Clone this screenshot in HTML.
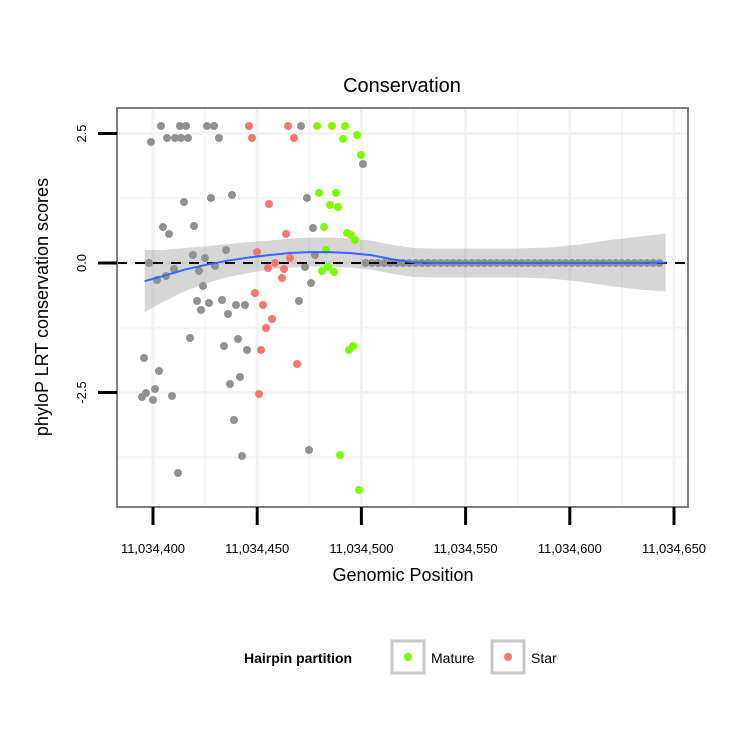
<!DOCTYPE html>
<html><head><meta charset="utf-8"><style>
body{margin:0;background:#fff;}
svg{display:block;font-family:"Liberation Sans",sans-serif;}
</style></head><body>
<svg id="chart" width="750" height="750"></svg>
<script>
const grayX=[161,180,186,207,214,301,167,175,181,188,219,151,363,184,211,232,307,163,169,194,313,226,193,205,315,149,215,305,199,174,166,157,203,311,197,209,222,236,245,299,201,228,190,224,238,247,144,159,240,230,155,146,142,153,172,234,309,242,178];
const grayY=[126,126,126,126,126,126,138,138,138,138,138,142,164,202,198,195,198,227,234,226,228,250,255,258,255,263,266,267,271,269,276,280,286,283,301,303,300,305,305,301,310,314,338,346,339,350,358,371,377,384,389,393,397,400,396,420,450,456,473];
const greenX=[317,332,345,343,357,361,319,336,330,338,324,347,351,355,326,328,322,334,353,349,340,359];
const greenY=[126,126,126,139,135,155,193,193,205,207,227,233,235,240,250,267,271,272,346,350,455,490];
const redX=[249,288,252,294,269,286,257,290,268,275,284,282,255,263,272,266,261,297,259];
const redY=[126,126,138,138,204,234,252,258,268,263,269,278,293,305,319,328,350,364,394];
// pixel->data conversion of read positions
const toX=p=>11034400+(p-153)/2.084, toY=p=>(263-p)/51.8;
const grayPos=grayX.map(toX), grayScore=grayY.map(toY);
const greenPos=greenX.map(toX), greenScore=greenY.map(toY);
const redPos=redX.map(toX), redScore=redY.map(toY);
const zeroPos=[11034502,11034505,11034508,11034511,11034514,11034517,11034520,11034523,11034526,11034529,11034532,11034535,11034538,11034541,11034544,11034547,11034550,11034553,11034556,11034559,11034562,11034565,11034568,11034571,11034574,11034577,11034580,11034583,11034586,11034589,11034592,11034595,11034598,11034601,11034604,11034607,11034610,11034613,11034616,11034619,11034622,11034625,11034628,11034631,11034634,11034637,11034640,11034643];
const smoothX=[396,405,415,425,435,445,455,465,475,485,495,505,515,525,535,545,560,575,590,605,620,635,646];
const smoothY=[-0.35,-0.25,-0.13,-0.04,0.04,0.1,0.15,0.19,0.21,0.21,0.19,0.15,0.07,0.01,0,0,0,0,0,0,0,0,0.01];
const smoothSE=[0.6,0.5,0.42,0.36,0.32,0.3,0.28,0.28,0.28,0.28,0.28,0.28,0.28,0.28,0.28,0.28,0.28,0.28,0.3,0.36,0.45,0.52,0.56];
const xTicks=[11034400,11034450,11034500,11034550,11034600,11034650];
const xTickLabels=["11,034,400","11,034,450","11,034,500","11,034,550","11,034,600","11,034,650"];
const yTicks=[-2.5,0,2.5];
const yTickLabels=["-2.5","0.0","2.5"];

const X=v=>153+(v-11034400)*2.084, Y=v=>263-v*51.8;
const svg=document.getElementById('chart');const NS='http://www.w3.org/2000/svg';
function mk(t,a,p){const e=document.createElementNS(NS,t);for(const k in a)e.setAttribute(k,a[k]);(p||svg).appendChild(e);return e;}
const L=117,R=688,T=108,B=507;
let e;
e=mk('rect',{x:L,y:T,width:R-L,height:B-T,fill:'#fff'});


[-3.75,-1.25,1.25].forEach(v=>{e=mk('line',{x1:L,x2:R,y1:Y(v),y2:Y(v),stroke:'#f5f5f5','stroke-width':2});

});
[11034425,11034475,11034525,11034575,11034625].forEach(v=>{e=mk('line',{x1:X(v),x2:X(v),y1:T,y2:B,stroke:'#f5f5f5','stroke-width':2});

});
yTicks.forEach(v=>{e=mk('line',{x1:L,x2:R,y1:Y(v),y2:Y(v),stroke:'#f2f2f2','stroke-width':3});

});
xTicks.forEach(v=>{e=mk('line',{x1:X(v),x2:X(v),y1:T,y2:B,stroke:'#f2f2f2','stroke-width':3});

});
const bandTop=smoothX.map((x,i)=>X(11034000+x)+','+Y(smoothY[i]+smoothSE[i]));
const bandBot=smoothX.map((x,i)=>X(11034000+x)+','+Y(smoothY[i]-smoothSE[i])).reverse();
e=mk('polygon',{points:bandTop.concat(bandBot).join(' '),fill:'#999','fill-opacity':0.4});


function pts(xs,ys,col,name){xs.forEach((x,i)=>{const c=mk('circle',{cx:X(x),cy:Y(ys[i]),r:4,fill:col});

});}
pts(zeroPos,zeroPos.map(()=>0),'#919191','point-other');
pts(grayPos,grayScore,'#919191','point-other');
pts(redPos,redScore,'#f8766d','point-star');
pts(greenPos,greenScore,'#7cfc00','point-mature');
e=mk('line',{x1:L,x2:R,y1:Y(0),y2:Y(0),stroke:'#000','stroke-width':2,'stroke-dasharray':'10,8'});


e=mk('polyline',{points:smoothX.map((x,i)=>X(11034000+x)+','+Y(smoothY[i])).join(' '),fill:'none',stroke:'#3366ff','stroke-width':2});


e=mk('rect',{x:L,y:T,width:R-L,height:B-T,fill:'none',stroke:'#7f7f7f','stroke-width':2});


xTicks.forEach((v,i)=>{e=mk('line',{x1:X(v),x2:X(v),y1:B,y2:B+18,stroke:'#000','stroke-width':3});


e=mk('text',{x:X(v),y:553,'text-anchor':'middle','font-size':13});e.textContent=xTickLabels[i];

});
yTicks.forEach((v,i)=>{e=mk('line',{x1:98,x2:L,y1:Y(v),y2:Y(v),stroke:'#000','stroke-width':3});


e=mk('text',{x:86,y:Y(v),'text-anchor':'middle','font-size':13,transform:`rotate(-90 86 ${Y(v)})`});e.textContent=yTickLabels[i];

});
e=mk('text',{x:402,y:92,'text-anchor':'middle','font-size':20});e.textContent='Conservation';


e=mk('text',{x:403,y:581,'text-anchor':'middle','font-size':18});e.textContent='Genomic Position';


e=mk('text',{x:48,y:307,'text-anchor':'middle','font-size':18,transform:'rotate(-90 48 307)'});e.textContent='phyloP LRT conservation scores';


e=mk('text',{x:244,y:663,'font-size':14,'font-weight':'bold'});e.textContent='Hairpin partition';


[[392,'#7cfc00','Mature',431],[492,'#f8766d','Star',531]].forEach(d=>{
e=mk('rect',{x:d[0],y:641,width:32,height:32,fill:'#fff',stroke:'#c8c8c8','stroke-width':3});


e=mk('circle',{cx:d[0]+16,cy:657,r:4,fill:d[1]});


e=mk('text',{x:d[3],y:663,'font-size':14});e.textContent=d[2];

});
</script>
</body></html>
